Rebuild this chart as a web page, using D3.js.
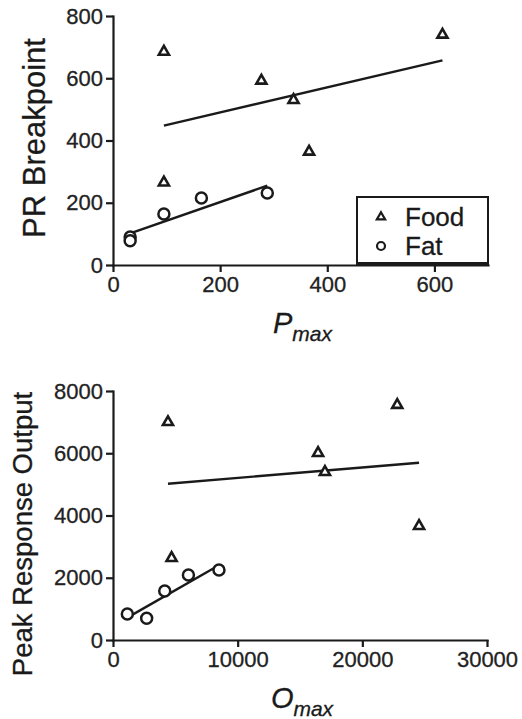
<!DOCTYPE html>
<html>
<head>
<meta charset="utf-8">
<script src="https://cdn.jsdelivr.net/npm/d3@7"></script>
<style>
  body { margin: 0; background: #fff; }
  svg { display: block; font-family: "Liberation Sans", Arial, sans-serif; }
  .axis path, .axis line { stroke: #1a1a1a; stroke-width: 2.2; }
  .axis text { font-size: 22px; fill: #222; stroke: #222; stroke-width: 0.3; }
  .title { fill: #1a1a1a; stroke: #1a1a1a; stroke-width: 0.3; }
  .fit { stroke: #1a1a1a; stroke-width: 2.4; fill: none; }
  .tri { fill: #fff; stroke: #1a1a1a; stroke-width: 2.6; stroke-linejoin: miter; }
  .dot { fill: #fff; stroke: #1a1a1a; stroke-width: 2.5; }
</style>
</head>
<body>
<svg width="522" height="719"></svg>
<script>
// top panel: PR breakpoint vs Pmax
var foodPmax = [95, 95, 277, 337, 366, 615];
var foodPR   = [685, 265, 592, 530, 364, 740];
var fatPmax  = [32, 32, 95, 165, 288];
var fatPR    = [90, 78, 164, 215, 231];

// bottom panel: peak response output vs Omax
var foodOmax = [4410, 4700, 16450, 17000, 22800, 24550];
var foodPeak = [7000, 2634, 6007, 5397, 7550, 3662];
var fatOmax  = [1150, 2700, 4150, 6050, 8500];
var fatPeak  = [835, 697, 1575, 2090, 2250];

var topXTicks = [0, 200, 400, 600];
var topYTicks = [0, 200, 400, 600, 800];
var botXTicks = [0, 10000, 20000, 30000];
var botYTicks = [0, 2000, 4000, 6000, 8000];

var legendLabels = ['Food', 'Fat'];

var svg = d3.select('svg');

function zip(xs, ys) {
  return xs.map(function(x, i) { return {x: x, y: ys[i]}; });
}

// least squares line over the range of the points
function fit(pts) {
  var mx = d3.mean(pts, function(d) { return d.x; });
  var my = d3.mean(pts, function(d) { return d.y; });
  var sxy = d3.sum(pts, function(d) { return (d.x - mx) * (d.y - my); });
  var sxx = d3.sum(pts, function(d) { return (d.x - mx) * (d.x - mx); });
  var b = sxy / sxx, a = my - b * mx;
  var ext = d3.extent(pts, function(d) { return d.x; });
  return ext.map(function(x) { return {x: x, y: a + b * x}; });
}

var tri = d3.symbol().type(d3.symbolTriangle).size(44);

function panel(cfg) {
  var x = d3.scaleLinear().domain(cfg.xDomain).range([113, cfg.xRight]);
  var y = d3.scaleLinear().domain(cfg.yDomain).range([cfg.bottom, cfg.top]);
  var g = svg.append('g');

  g.append('g').attr('class', 'axis')
    .attr('transform', 'translate(0,' + cfg.bottom + ')')
    .call(d3.axisBottom(x).tickValues(cfg.xTicks).tickSize(7).tickSizeOuter(0).tickPadding(4).tickFormat(d3.format('d')));

  g.append('g').attr('class', 'axis')
    .attr('transform', 'translate(113,0)')
    .call(d3.axisLeft(y).tickValues(cfg.yTicks).tickSize(7).tickSizeOuter(0).tickPadding(3).tickFormat(d3.format('d')));

  g.selectAll('.domain').attr('stroke-linecap', 'square');

  var line = d3.line()
    .x(function(d) { return x(d.x); })
    .y(function(d) { return y(d.y); });

  [cfg.food, cfg.fat].forEach(function(pts) {
    g.append('path').attr('class', 'fit').attr('d', line(fit(pts)));
  });

  g.selectAll('path.tri')
    .data(cfg.food)
    .enter()
      .append('path')
      .attr('class', 'tri')
      .attr('d', tri)
      .attr('transform', function(d) { return 'translate(' + x(d.x) + ',' + y(d.y) + ')'; });

  g.selectAll('circle.dot')
    .data(cfg.fat)
    .enter()
      .append('circle')
      .attr('class', 'dot')
      .attr('r', 5.5)
      .attr('cx', function(d) { return x(d.x); })
      .attr('cy', function(d) { return y(d.y); });

  // y title
  g.append('text')
    .attr('class', 'title')
    .attr('transform', 'translate(' + cfg.yTitleX + ',' + cfg.yTitleY + ') rotate(-90)')
    .attr('text-anchor', 'middle')
    .style('font-size', cfg.yTitleSize + 'px')
    .text(cfg.yTitle);

  // x title with subscript
  var t = g.append('text')
    .attr('class', 'title')
    .attr('x', (113 + cfg.xRight) / 2 + 2)
    .attr('y', cfg.bottom + 68)
    .attr('text-anchor', 'middle')
    .style('font-style', 'italic');
  t.append('tspan').style('font-size', '29px').text(cfg.xTitle);
  t.append('tspan').style('font-size', '21px').attr('dy', 8).text('max');

  return {x: x, y: y, g: g};
}

var p1 = panel({
  xDomain: [0, 700], yDomain: [0, 800], xRight: 488, top: 16, bottom: 265,
  xTicks: topXTicks, yTicks: topYTicks,
  food: zip(foodPmax, foodPR), fat: zip(fatPmax, fatPR),
  yTitle: 'PR Breakpoint', yTitleX: 45, yTitleY: 138, yTitleSize: 31,
  xTitle: 'P'
});

var p2 = panel({
  xDomain: [0, 30000], yDomain: [0, 8000], xRight: 487, top: 391, bottom: 640,
  xTicks: botXTicks, yTicks: botYTicks,
  food: zip(foodOmax, foodPeak), fat: zip(fatOmax, fatPeak),
  yTitle: 'Peak Response Output', yTitleX: 32, yTitleY: 534, yTitleSize: 27.5,
  xTitle: 'O'
});

// legend in top panel
var leg = p1.g.append('g').attr('transform', 'translate(357,197)');
leg.append('rect')
  .attr('width', 131).attr('height', 67)
  .attr('fill', '#fff').attr('stroke', '#1a1a1a').attr('stroke-width', 2);
leg.append('line')
  .attr('x1', 0).attr('x2', 131).attr('y1', 67).attr('y2', 67)
  .attr('stroke', '#1a1a1a').attr('stroke-width', 4);

var items = leg.selectAll('g.item')
  .data(legendLabels)
  .enter()
    .append('g')
    .attr('transform', function(d, i) { return 'translate(0,' + (20 + i * 29) + ')'; });

items.each(function(d, i) {
  var it = d3.select(this);
  if (i === 0) {
    it.append('path').attr('class', 'tri')
      .attr('d', d3.symbol().type(d3.symbolTriangle).size(30))
      .attr('transform', 'translate(24,0)').style('stroke-width', 2.2);
  } else {
    it.append('circle').attr('class', 'dot').attr('r', 4)
      .attr('cx', 24).attr('cy', 0).style('stroke-width', 2.2);
  }
  it.append('text')
    .attr('class', 'title')
    .attr('x', 48).attr('y', 9)
    .style('font-size', '26px')
    .text(d);
});
</script>
</body>
</html>
